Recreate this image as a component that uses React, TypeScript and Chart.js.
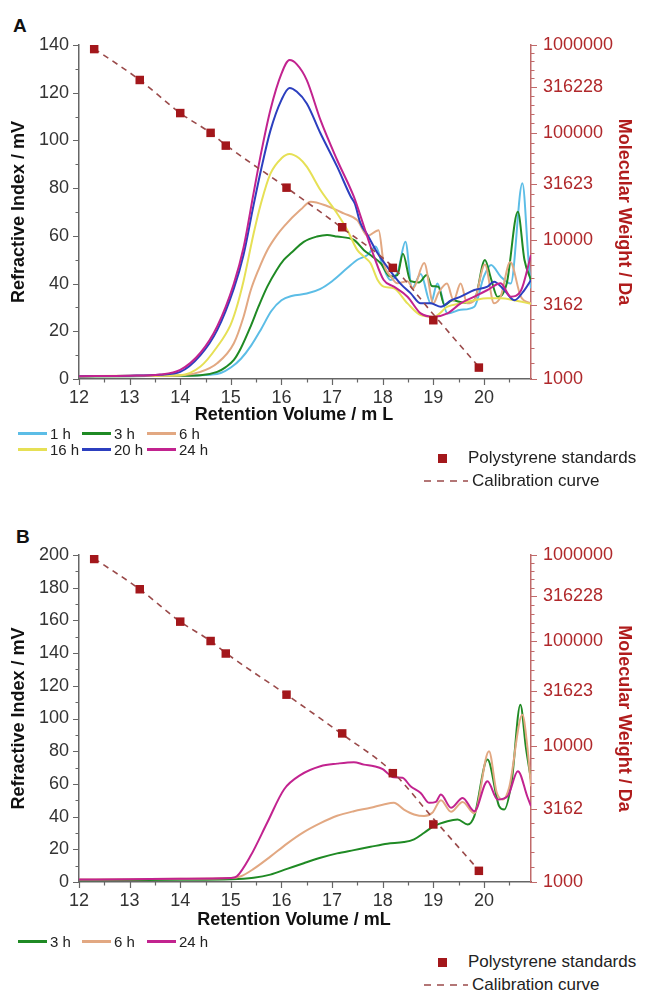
import React, { useEffect, useRef } from "react";
import { Chart, registerables } from "chart.js";
Chart.register(...registerables);

type Pt = [number, number];

// ---------- axis ticks ----------
const volumeTicks = [12, 13, 14, 15, 16, 17, 18, 19, 20];
const mwTicks = [1000, 3162, 10000, 31623, 100000, 316228, 1000000];
const riTicksA = [0, 20, 40, 60, 80, 100, 120, 140];
const riTicksB = [0, 20, 40, 60, 80, 100, 120, 140, 160, 180, 200];

// ---------- polystyrene standards & calibration (Da) ----------
const standardsVolume = [12.3, 13.2, 14.0, 14.6, 14.9, 16.1, 17.2, 18.2, 19.0, 19.9];
const standardsMW = [890000, 380000, 162000, 100000, 74000, 29000, 12900, 6000, 2450, 1180];
const calibrationVolume = [12.3, 13.2, 14.0, 14.6, 14.9, 16.1, 17.2, 18.2, 19.0, 19.9];
const calibrationMW = [900000, 380000, 162000, 100000, 75000, 29000, 12700, 6100, 2700, 1190];

// ---------- panel A series ----------
const a1h: Pt[] = [[12,1.2],[13,1.3],[14,1.4],[14.6,1.8],[14.8,2.5],[15.0,4.8],[15.2,8.5],[15.4,14],[15.6,21],[15.8,28.5],[16.0,33],[16.2,34.8],[16.5,35.8],[16.77,37.8],[17.0,41],[17.3,46.5],[17.5,50],[17.7,52],[17.86,55.5],[18.0,47.5],[18.15,41.5],[18.3,45],[18.45,57.5],[18.58,38],[18.75,44],[18.95,31.7],[19.08,40],[19.28,27.5],[19.54,29],[19.81,30.3],[20.0,43],[20.14,47.8],[20.33,43],[20.53,40],[20.76,82],[20.88,50],[20.93,38]];
const a3h: Pt[] = [[12,1.0],[13,1.2],[14,1.4],[14.4,1.6],[14.73,3],[14.9,5],[15.06,8],[15.2,13],[15.39,22],[15.55,30.5],[15.72,38.7],[15.9,45.5],[16.05,50],[16.2,53],[16.44,57.5],[16.7,59.7],[16.9,60.4],[17.1,59.7],[17.43,58.3],[17.63,54],[17.8,51.3],[17.96,48.5],[18.15,43],[18.29,43.5],[18.4,52.5],[18.55,41],[18.72,40.5],[18.87,43.6],[18.97,39],[19.1,38.7],[19.22,31],[19.38,33],[19.6,32],[19.81,33],[20.02,49.9],[20.14,42],[20.27,34.4],[20.45,40],[20.67,70.1],[20.8,50],[20.93,41.5]];
const a6h: Pt[] = [[12,1.2],[13,1.3],[14,1.5],[14.4,3],[14.73,6.6],[15.06,15],[15.25,26],[15.39,37],[15.55,46],[15.72,54],[15.9,60],[16.05,64],[16.38,71],[16.58,74.3],[16.9,72.5],[17.23,69.4],[17.5,66.5],[17.7,60],[17.92,62.4],[18.02,48.5],[18.16,43],[18.29,40.1],[18.49,41],[18.6,38],[18.82,48.6],[19.0,31.7],[19.1,36],[19.27,40],[19.4,33],[19.54,40],[19.67,31.7],[19.81,33],[20.02,48],[20.2,31.7],[20.33,34.5],[20.52,49],[20.73,34.5],[20.93,31.7]];
const a16h: Pt[] = [[12,1.2],[13,1.4],[14,1.6],[14.4,5.2],[14.73,13.5],[14.99,22.5],[15.1,29],[15.25,41],[15.45,61],[15.6,74],[15.78,86],[16.0,92.5],[16.16,94.3],[16.35,92.5],[16.5,89],[16.77,79.2],[17.1,69.4],[17.3,62.5],[17.5,54],[17.63,51.3],[17.76,48.5],[17.9,41.5],[18.02,38.7],[18.22,38],[18.49,31.7],[18.75,26.8],[19.01,26.1],[19.28,30.3],[19.54,31.7],[19.81,33],[20.07,33.8],[20.33,33.8],[20.6,33],[20.93,31.5]];
const a20h: Pt[] = [[12,1.2],[13,1.4],[13.6,1.8],[14,3],[14.4,10],[14.73,20.5],[15.06,38],[15.25,52],[15.45,73],[15.6,88],[15.78,104],[16.0,117],[16.16,122],[16.3,120.5],[16.5,115.5],[16.77,103],[17.1,89],[17.37,76.4],[17.45,73.5],[17.56,65.3],[17.7,60.4],[17.9,52.7],[18.09,47],[18.35,40],[18.55,36],[18.75,31.7],[18.95,31.7],[19.15,30.3],[19.35,33],[19.54,34.5],[19.81,37.3],[20.07,38.7],[20.2,40.8],[20.4,37.3],[20.6,33],[20.8,37.3],[20.93,41.5]];
const a24h: Pt[] = [[12,1.2],[13,1.4],[13.6,1.9],[14,3.8],[14.4,11],[14.73,22],[15.06,40],[15.25,55],[15.45,78],[15.6,95],[15.78,112.7],[16.0,128],[16.16,133.7],[16.3,132],[16.5,125.3],[16.77,108.6],[17.1,91.8],[17.43,76.4],[17.63,63.9],[17.83,51.3],[18.02,41.5],[18.22,38.7],[18.49,34.5],[18.75,27.5],[19.01,26.1],[19.28,27.5],[19.54,31.7],[19.81,34.5],[20.07,37.3],[20.33,40.1],[20.53,34.5],[20.73,37],[20.93,52]];

// ---------- panel B series ----------
const b3h: Pt[] = [[12,1],[13,1.2],[14,1.4],[15,1.7],[15.45,2.6],[15.78,4.5],[16.11,8],[16.44,11.5],[16.77,14.8],[17.1,17.5],[17.43,19.5],[17.76,21.5],[18.09,23.4],[18.42,24.4],[18.62,26.1],[18.82,30.1],[19.01,34.2],[19.28,37.2],[19.48,38.2],[19.68,35.2],[19.81,40.3],[20.07,74.9],[20.3,46.4],[20.4,44.3],[20.55,62],[20.72,108.4],[20.83,82],[20.93,62.7]];
const b6h: Pt[] = [[12,1.5],[13,1.7],[14,2],[15,2.4],[15.2,3.5],[15.45,8],[15.78,15.5],[16.11,23.5],[16.44,30.5],[16.77,36],[17.1,40.5],[17.43,43.3],[17.76,45.4],[18.02,47.4],[18.22,48.4],[18.42,44.3],[18.62,41.3],[18.82,40.3],[18.98,42.3],[19.15,50],[19.35,43],[19.58,49],[19.81,42],[20.1,79.9],[20.25,55],[20.37,50.4],[20.5,58],[20.76,102.3],[20.85,85],[20.93,58.6]];
const b24h: Pt[] = [[12,1.5],[13,1.7],[14,2],[15,2.4],[15.12,3.5],[15.39,16],[15.72,36.4],[16.05,56.6],[16.38,65.5],[16.77,70.8],[17.1,72.4],[17.43,73.3],[17.63,71.8],[17.83,70.8],[18.0,69],[18.09,66.7],[18.22,64],[18.39,63.7],[18.55,58.6],[18.75,54.5],[18.92,48.4],[19.05,49],[19.15,53.5],[19.35,45.4],[19.58,51.4],[19.81,43.3],[20.07,61.6],[20.27,50.4],[20.47,52.5],[20.67,67.8],[20.86,52],[20.93,46.4]];

const labelsA = ["1 h", "3 h", "6 h", "16 h", "20 h", "24 h"];
const seriesA = [a1h, a3h, a6h, a16h, a20h, a24h];
const labelsB = ["3 h", "6 h", "24 h"];
const seriesB = [b3h, b6h, b24h];

const COLORS: Record<string, string> = {
  "1 h": "#5cbde6",
  "3 h": "#1f8a24",
  "6 h": "#e2a882",
  "16 h": "#e6e055",
  "20 h": "#2c3fbf",
  "24 h": "#c2238f",
};
const STD_COLOR = "#a3171b";
const CAL_COLOR = "#9a4a4a";
const RIGHT_COLOR = "#b0282b";
const AXIS_COLOR = "#666";
const FONT = '"Liberation Sans", Arial, sans-serif';

const tickMarks = {
  id: "tickMarks",
  afterDraw(chart: any) {
    const o = chart.options.plugins.tickMarks;
    const ctx = chart.ctx;
    const { x, y, y2 } = chart.scales;
    ctx.save();
    ctx.lineWidth = 1.2;
    ctx.strokeStyle = AXIS_COLOR;
    ctx.beginPath();
    for (let v = x.min; v <= x.max + 1e-9; v += 0.5) {
      const major = Math.abs(v - Math.round(v)) < 1e-6;
      const p = Math.round(x.getPixelForValue(v)) + 0.5;
      ctx.moveTo(p, x.top);
      ctx.lineTo(p, x.top + (major ? 6 : 3.5));
    }
    for (let v = y.min; v <= y.max + 1e-9; v += o.yMinor) {
      const major = Math.abs(v / (o.yMinor * 2) - Math.round(v / (o.yMinor * 2))) < 1e-6;
      const p = Math.round(y.getPixelForValue(v)) + 0.5;
      ctx.moveTo(y.right, p);
      ctx.lineTo(y.right - (major ? 6 : 3.5), p);
    }
    ctx.stroke();
    ctx.strokeStyle = "#c06a6a";
    ctx.beginPath();
    for (let k = 0; k <= 30; k++) {
      const v = 3 + k * 0.1;
      const p = Math.round(y2.getPixelForValue(v)) + 0.5;
      ctx.moveTo(y2.left, p);
      ctx.lineTo(y2.left + (k % 5 === 0 ? 6 : 3.5), p);
    }
    ctx.stroke();
    ctx.restore();
  },
};

type Cfg = {
  top: number;
  height: number;
  padTop: number;
  plotBottom: number;
  yMax: number;
  yTicks: number[];
  labels: string[];
  series: Pt[][];
  xTitle: string;
};

function GpcChart({ cfg }: { cfg: Cfg }) {
  const ref = useRef<HTMLCanvasElement>(null);
  useEffect(() => {
    const lineSets = cfg.labels
      .map((lab, i) => ({
        type: "line" as const,
        label: lab,
        data: cfg.series[i].map(([vx, vy]) => ({ x: vx, y: vy })),
        yAxisID: "y",
        borderColor: COLORS[lab],
        backgroundColor: COLORS[lab],
        borderWidth: 2,
        pointRadius: 0,
        cubicInterpolationMode: "monotone" as const,
      }))
      .reverse();
    const chart = new Chart(ref.current!, {
      type: "line",
      data: {
        datasets: [
          {
            label: "Polystyrene standards",
            // right axis is a log scale of log10(M)
            data: standardsVolume.map((v, i) => ({ x: v, y: Math.log10(standardsMW[i]) })),
            yAxisID: "y2",
            showLine: false,
            pointStyle: "rect",
            pointRadius: 6,
            pointBackgroundColor: STD_COLOR,
            pointBorderColor: STD_COLOR,
            pointBorderWidth: 0,
            borderColor: STD_COLOR,
          },
          {
            label: "Calibration curve",
            data: calibrationVolume.map((v, i) => ({ x: v, y: Math.log10(calibrationMW[i]) })),
            yAxisID: "y2",
            borderColor: CAL_COLOR,
            borderWidth: 1.6,
            borderDash: [6, 5],
            pointRadius: 0,
            cubicInterpolationMode: "monotone",
          },
          ...lineSets,
        ] as any,
      },
      options: {
        responsive: false,
        animation: false,
        devicePixelRatio: 1,
        layout: { padding: { top: cfg.padTop, left: 0, right: 22, bottom: 0 } },
        plugins: {
          legend: { display: false },
          tooltip: { enabled: false },
          tickMarks: { yMinor: 10 },
        } as any,
        scales: {
          x: {
            type: "linear",
            min: 12,
            max: 20.93,
            afterBuildTicks: (s: any) => {
              s.ticks = volumeTicks.map((v) => ({ value: v }));
            },
            afterFit: (s: any) => {
              s.height = cfg.height - cfg.plotBottom;
            },
            grid: { display: false },
            border: { display: true, color: AXIS_COLOR, width: 1.5 },
            ticks: {
              font: { family: FONT, size: 18 },
              color: "#333",
              padding: 0,
              maxRotation: 0,
              callback: (v: any) => String(v),
            },
            title: { display: false },
          },
          y: {
            type: "linear",
            position: "left",
            min: 0,
            max: cfg.yMax,
            afterBuildTicks: (s: any) => {
              s.ticks = cfg.yTicks.map((v) => ({ value: v }));
            },
            afterFit: (s: any) => {
              s.width = 79;
            },
            grid: { display: false },
            border: { display: true, color: AXIS_COLOR, width: 1.5 },
            ticks: {
              font: { family: FONT, size: 18 },
              color: "#333",
              padding: 2,
              callback: (v: any) => String(v),
            },
            title: {
              display: true,
              text: "Refractive Index / mV",
              font: { family: FONT, size: 18, weight: "bold" },
              color: "#111",
              padding: { top: 8, bottom: 0 },
            },
          },
          y2: {
            type: "logarithmic",
            position: "right",
            min: 3,
            max: 6,
            afterBuildTicks: (s: any) => {
              s.ticks = mwTicks.map((v) => ({ value: Math.log10(v) }));
            },
            afterFit: (s: any) => {
              s.width = 665 - 22 - 531;
            },
            grid: { display: false },
            border: { display: true, color: "#c06a6a", width: 1.5 },
            ticks: {
              font: { family: FONT, size: 18 },
              color: RIGHT_COLOR,
              padding: 4,
              callback: (_v: any, i: number) => String(mwTicks[i]),
            },
            title: {
              display: true,
              text: "Molecular Weight / Da",
              font: { family: FONT, size: 18, weight: "bold" },
              color: "#b01c1c",
              padding: { top: 8, bottom: 0 },
            },
          },
        } as any,
      },
      plugins: [tickMarks],
    });
    return () => chart.destroy();
  }, []);
  return (
    <>
      <canvas
        ref={ref}
        width={665}
        height={cfg.height}
        style={{ position: "absolute", left: 0, top: cfg.top, width: 665, height: cfg.height }}
      />
      <div
        style={{
          position: "absolute",
          left: 294 - 150,
          width: 300,
          textAlign: "center",
          top: cfg.top + cfg.height - 25,
          lineHeight: "22px",
          fontFamily: FONT,
          fontWeight: "bold",
          fontSize: 18,
          color: "#111",
          whiteSpace: "nowrap",
        }}
      >
        {cfg.xTitle}
      </div>
    </>
  );
}

function Legend({ labels, top, rowGap, rightTop }: { labels: string[]; top: number; rowGap: number; rightTop: number }) {
  const cols = [18, 82, 147];
  return (
    <>
      {labels.map((lab, i) => {
        const col = i % 3;
        const row = Math.floor(i / 3);
        return (
          <div
            key={lab}
            style={{
              position: "absolute",
              left: cols[col],
              top: top + row * rowGap - 9,
              height: 18,
              display: "flex",
              alignItems: "center",
              fontFamily: FONT,
              fontSize: 15,
              color: "#222",
              whiteSpace: "nowrap",
            }}
          >
            <span style={{ display: "inline-block", width: 29, height: 3, background: COLORS[lab], marginRight: 3 }} />
            <span>{lab}</span>
          </div>
        );
      })}
      <div
        style={{
          position: "absolute",
          left: 438,
          top: rightTop - 11,
          height: 22,
          display: "flex",
          alignItems: "center",
          fontFamily: FONT,
          fontSize: 17,
          color: "#222",
          whiteSpace: "nowrap",
        }}
      >
        <span style={{ display: "inline-block", width: 9, height: 9, background: STD_COLOR, marginRight: 21 }} />
        <span>Polystyrene standards</span>
      </div>
      <div
        style={{
          position: "absolute",
          left: 424,
          top: rightTop + 23 - 11,
          height: 22,
          display: "flex",
          alignItems: "center",
          fontFamily: FONT,
          fontSize: 17,
          color: "#222",
          whiteSpace: "nowrap",
        }}
      >
        <svg width={44} height={4} style={{ marginRight: 4 }}>
          <line x1={0} y1={2} x2={44} y2={2} stroke={CAL_COLOR} strokeWidth={1.6} strokeDasharray="7 6" />
        </svg>
        <span>Calibration curve</span>
      </div>
    </>
  );
}

const panelLetter = (t: string, top: number, left: number) => (
  <div
    style={{
      position: "absolute",
      left,
      top,
      fontFamily: FONT,
      fontWeight: "bold",
      fontSize: 19,
      color: "#111",
      lineHeight: "20px",
    }}
  >
    {t}
  </div>
);

export default function App() {
  const cfgA: Cfg = {
    top: 0,
    height: 428,
    padTop: 45,
    plotBottom: 379,
    yMax: 140,
    yTicks: riTicksA,
    labels: labelsA,
    series: seriesA,
    xTitle: "Retention Volume / m L",
  };
  const cfgB: Cfg = {
    top: 490,
    height: 443,
    padTop: 65,
    plotBottom: 392,
    yMax: 200,
    yTicks: riTicksB,
    labels: labelsB,
    series: seriesB,
    xTitle: "Retention Volume / mL",
  };
  return (
    <div style={{ position: "absolute", left: 0, top: 0, width: 665, height: 991, background: "#fff", overflow: "hidden" }}>
      {panelLetter("A", 16, 13)}
      {panelLetter("B", 527, 16)}
      <GpcChart cfg={cfgA} />
      <GpcChart cfg={cfgB} />
      <Legend labels={labelsA} top={433} rowGap={16} rightTop={458} />
      <Legend labels={labelsB} top={941} rowGap={16} rightTop={962} />
    </div>
  );
}
